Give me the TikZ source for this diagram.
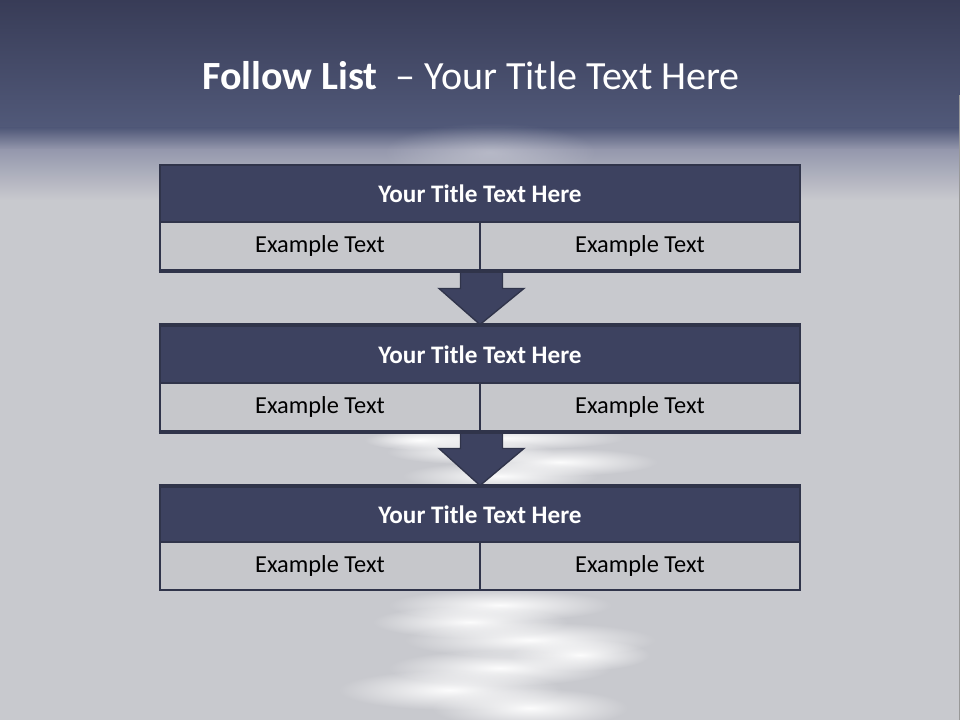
\documentclass[tikz,border=0pt]{standalone}
\usepackage{fontspec}
\setmainfont{Carlito}
\usetikzlibrary{calc,fadings}
\definecolor{bgTop}{HTML}{383C57}
\definecolor{bgMid}{HTML}{515979}
\definecolor{bgTrans}{HTML}{9598AD}
\definecolor{bgLight}{HTML}{C8C9CE}
\definecolor{barFill}{HTML}{3D4260}
\definecolor{barLine}{HTML}{30344A}
\definecolor{cellFill}{HTML}{C6C7CB}
\tikzfading[name=glow, inner color=transparent!0, outer color=transparent!100]
\newcommand\glint[4]{%
  \fill[white,opacity=0.95,path fading=glow] (#1,#2) ellipse ({#3*1.4*0.75pt} and {#4*2*0.75pt});}
\begin{document}
\begin{tikzpicture}[x=0.75pt,y=-0.75pt,
  titlebar/.style={draw=barLine,fill=barFill,line width=2.2pt,minimum width=480pt,
    inner sep=0pt,text=white,font=\fontsize{18.9pt}{20pt}\selectfont\bfseries},
  cellbox/.style={draw=barLine,fill=cellFill,line width=2.2pt,minimum width=240pt,
    minimum height=36pt,inner sep=0pt,text=black,font=\fontsize{18.3pt}{20pt}\selectfont},
  flowarrow/.style={fill=barFill,draw=barLine,line width=1pt,line join=miter}]
\useasboundingbox (0,0) rectangle (960,720);
% background
\shade[top color=bgTop,bottom color=bgMid] (0,0) rectangle (960,128);
\shade[top color=bgMid,bottom color=bgTrans] (0,128) rectangle (960,150);
\shade[top color=bgTrans,bottom color=bgLight] (0,150) rectangle (960,200);
\fill[bgLight] (0,200) rectangle (960,720);
\fill[white,opacity=0.3,path fading=glow] (490,152) ellipse (80pt and 22pt);
\draw[color=gray!80,line width=0.8pt] (959.3,95) -- (959.3,720);
% reflections
\glint{500}{438}{90}{6}
\glint{470}{452}{60}{6}
\glint{560}{462}{70}{7}
\glint{500}{476}{70}{7}
\glint{420}{440}{40}{5}
\glint{500}{605}{80}{8}
\glint{470}{622}{70}{8}
\glint{530}{640}{90}{9}
\glint{580}{655}{50}{8}
\glint{500}{668}{80}{9}
\glint{450}{690}{80}{10}
\glint{530}{708}{70}{10}
% title
\node[text=white,font=\fontsize{30pt}{32pt}\selectfont,anchor=center] (title) at (471,76)
  {\textbf{Follow List}\ \ – Your Title Text Here};
% block 1
\node[titlebar,minimum height=42.75pt] (t1) at (480,193.5) {Your Title Text Here};
\node[cellbox] (c1a) at (320,246) {Example Text};
\node[cellbox] (c1b) at (640,246) {Example Text};
% block 2
\node[titlebar,minimum height=42.75pt] (t2) at (480,354.5) {Your Title Text Here};
\node[cellbox] (c2a) at (320,407) {Example Text};
\node[cellbox] (c2b) at (640,407) {Example Text};
% block 3
\node[titlebar,minimum height=41.25pt] (t3) at (480,514.5) {Your Title Text Here};
\node[cellbox] (c3a) at (320,566) {Example Text};
\node[cellbox] (c3b) at (640,566) {Example Text};
% arrows
\draw[flowarrow] ($(c1a.south east)+(-21,0)$) -- ++(0,17) -- ++(-21.5,0) -- (t2.north)
  -- ($(c1a.south east)+(42.5,17)$) -- ++(-21.5,0) -- ++(0,-17) -- cycle;
\draw[flowarrow] ($(c2a.south east)+(-21,0)$) -- ++(0,16) -- ++(-21.5,0) -- (t3.north)
  -- ($(c2a.south east)+(42.5,16)$) -- ++(-21.5,0) -- ++(0,-16) -- cycle;
% redraw borders over arrow joints
\draw[barLine,line width=2.2pt] (c1a.south west) -- (c1b.south east);
\draw[barLine,line width=2.2pt] (c2a.south west) -- (c2b.south east);
\draw[barLine,line width=2.2pt] (t2.north west) -- (t2.north east);
\draw[barLine,line width=2.2pt] (t3.north west) -- (t3.north east);
\end{tikzpicture}
\end{document}
